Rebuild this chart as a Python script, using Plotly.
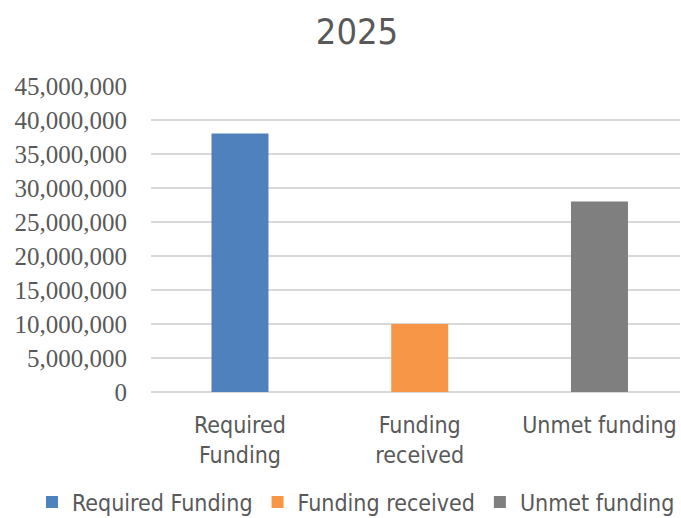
import plotly.graph_objects as go

categories = ["Required<br>Funding", "Funding<br>received", "Unmet funding"]
series_names = ["Required Funding", "Funding received", "Unmet funding"]
values = [38000000, 10000000, 28000000]
colors = ["#4f81bd", "#f79646", "#7f7f7f"]
y_ticks = [0, 5000000, 10000000, 15000000, 20000000, 25000000, 30000000, 35000000, 40000000, 45000000]

SANS = "DejaVu Sans Condensed, DejaVu Sans, sans-serif"
SERIF = "Liberation Serif, DejaVu Serif, serif"

# the page shows 518 px; the figure is a little taller so the legend box fits without
# pushing the bottom margin (extra rows fall below the visible window)
EXTRA = 14
H = 518 + EXTRA

fig = go.Figure()
for i, (cat, name, val, col) in enumerate(zip(categories, series_names, values, colors)):
    fig.add_trace(go.Bar(
        x=[i], y=[val], name=name, marker=dict(color=col, line=dict(width=0)),
        width=0.317,
    ))

fig.update_layout(
    width=681, height=H,
    margin=dict(l=151, r=1, t=86, b=126 + EXTRA),
    paper_bgcolor="white", plot_bgcolor="white",
    barmode="overlay",
    title=dict(text="2025", x=357/681, xref="container", xanchor="center",
               y=1-31/H, yref="container", yanchor="middle",
               font=dict(family=SANS, size=36, color="#595959")),
    showlegend=True,
    legend=dict(orientation="h",
                x=(32-151)/529, xanchor="left", y=-(502-392)/306, yanchor="middle",
                font=dict(family=SANS, size=23, color="#595959"),
                itemwidth=30, traceorder="normal", borderwidth=0),
    xaxis=dict(
        tickmode="array", tickvals=[0, 1, 2], ticktext=categories,
        range=[-0.495, 2.448], showgrid=False, zeroline=False,
        showline=False, ticks="", ticklabelstandoff=17, automargin=False,
        tickfont=dict(family=SANS, size=23, color="#595959"),
    ),
    yaxis=dict(
        range=[0, 45000000], tickmode="array", tickvals=y_ticks,
        tickformat=",", showgrid=True, gridcolor="#d9d9d9", gridwidth=1.5,
        zeroline=True, zerolinecolor="#d9d9d9", zerolinewidth=1.5,
        showline=False, ticks="", ticklabelstandoff=23, automargin=False,
        tickfont=dict(family=SERIF, size=25, color="#595959"),
    ),
)

fig.write_html("out.html", config={"displayModeBar": False},
               post_script="document.body.style.margin='0';document.body.style.overflow='hidden';")
